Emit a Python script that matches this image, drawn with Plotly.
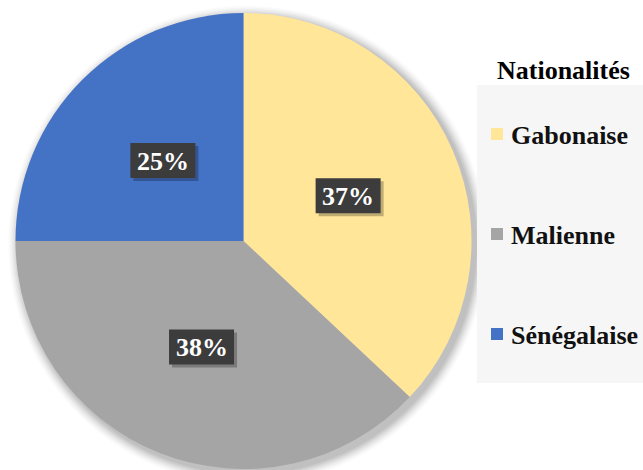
import math
import plotly.graph_objects as go

# Répartition par nationalité (%)
nationalites = ["Gabonaise", "Malienne", "Sénégalaise"]
pourcentages = [37, 38, 25]
couleurs = ["#FFE699", "#A5A5A5", "#4472C4"]
titre_legende = "Nationalités"

W, H = 643, 470
SERIF = "Liberation Serif"

# Pie geometry in pixels
CX, CY, R = 243.5, 241.0, 228.0


def px(x):
    return x / W


def py(y):
    return 1 - y / H


fig = go.Figure(
    go.Pie(
        labels=nationalites,
        values=pourcentages,
        marker=dict(colors=couleurs, line=dict(width=0)),
        sort=False,
        direction="clockwise",
        rotation=0,
        textinfo="none",
        hoverinfo="label+percent",
        showlegend=False,
        domain=dict(x=[px(CX - R), px(CX + R)], y=[py(CY + R), py(CY - R)]),
    )
)

shapes = []
# soft drop shadow around the pie
for i, op in enumerate([0.06, 0.05, 0.045, 0.04, 0.03, 0.025, 0.02]):
    d = 1.6 * (i + 1)
    shapes.append(dict(
        type="circle", xref="paper", yref="paper", layer="below",
        x0=px(CX - R - d + 4), x1=px(CX + R + d + 4),
        y0=py(CY + R + d + 4), y1=py(CY - R - d + 4),
        fillcolor=f"rgba(0,0,0,{op})", line=dict(width=0),
    ))

# legend panel
shapes.append(dict(
    type="rect", xref="paper", yref="paper", layer="below",
    x0=px(477), x1=1.0, y0=py(383), y1=py(85),
    fillcolor="#F6F6F6", line=dict(width=0),
))

annotations = []
annotations.append(dict(
    x=px(563), y=py(71), xref="paper", yref="paper",
    text=f"<b>{titre_legende}</b>", showarrow=False,
    xanchor="center", yanchor="middle",
    font=dict(family=SERIF, size=26, color="#000000"),
))

for k, (nom, col) in enumerate(zip(nationalites, couleurs)):
    yc = 134 + 100 * k
    shapes.append(dict(
        type="rect", xref="paper", yref="paper",
        x0=px(491), x1=px(503), y0=py(yc + 6), y1=py(yc - 6),
        fillcolor=col, line=dict(width=0),
    ))
    annotations.append(dict(
        x=px(509), y=py(yc + 1), xref="paper", yref="paper",
        text=f"<b>{nom}</b>", showarrow=False,
        xanchor="left", yanchor="middle",
        font=dict(family=SERIF, size=26, color="#111111"),
    ))

# percentage labels placed at each slice's mid-angle
BW, BH = 65, 35
total = sum(pourcentages)
cumul = 0
for val in pourcentages:
    mid = (cumul + val / 2) / total * 2 * math.pi
    cumul += val
    rr = 0.5 * R
    lx = CX + rr * math.sin(mid)
    ly = CY - rr * math.cos(mid)
    # box shadow, then the dark box
    for dx, dy, fill in [(3, 3, "rgba(0,0,0,0.25)"), (0, 0, "#3C3C3C")]:
        shapes.append(dict(
            type="rect", xref="paper", yref="paper",
            x0=px(lx - BW / 2 + dx), x1=px(lx + BW / 2 + dx),
            y0=py(ly + BH / 2 + dy), y1=py(ly - BH / 2 + dy),
            fillcolor=fill, line=dict(width=0),
        ))
    annotations.append(dict(
        x=px(lx), y=py(ly + 1), xref="paper", yref="paper",
        text=f"<b>{val}%</b>", showarrow=False,
        xanchor="center", yanchor="middle",
        font=dict(family=SERIF, size=26, color="#FFFFFF"),
    ))

fig.update_layout(
    width=W, height=H,
    margin=dict(l=0, r=0, t=0, b=0),
    paper_bgcolor="#FFFFFF",
    plot_bgcolor="#FFFFFF",
    shapes=shapes,
    annotations=annotations,
)

fig.write_html("out.html")
